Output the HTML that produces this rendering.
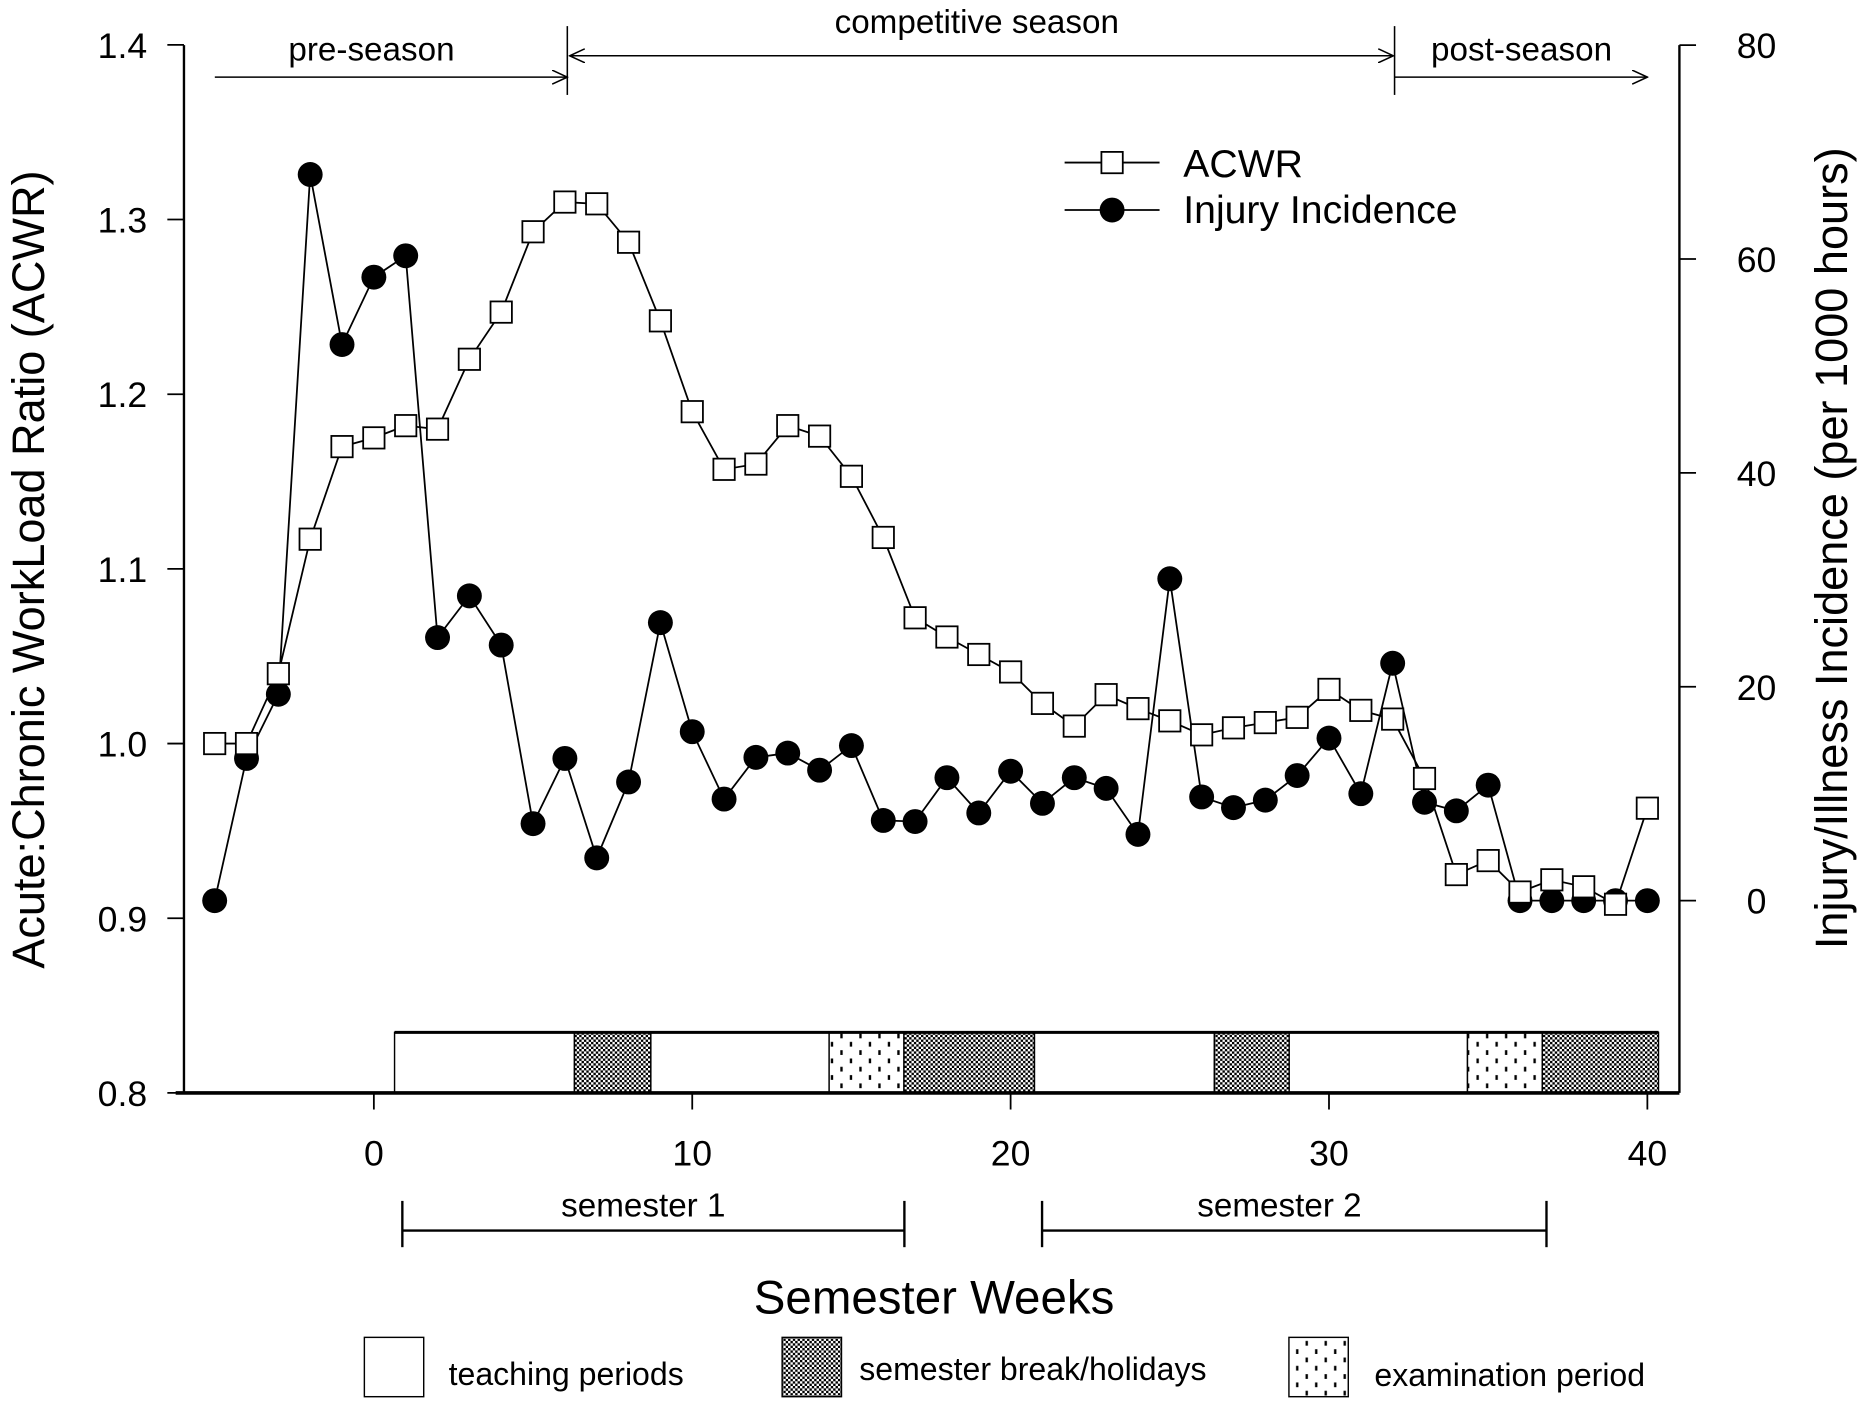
<!DOCTYPE html>
<html><head><meta charset="utf-8"><style>html,body{margin:0;padding:0;background:#fff}svg{display:block}text{font-family:"Liberation Sans",Arial,sans-serif;fill:#000}</style></head>
<body>
<svg id="chart" width="1861" height="1405" viewBox="0 0 1568 1184" preserveAspectRatio="none" xmlns="http://www.w3.org/2000/svg">
<defs>
<pattern id="hatch" width="4" height="4" patternUnits="userSpaceOnUse"><rect width="4" height="4" fill="#fff"/><rect width="2" height="2" fill="#000"/><rect x="2" y="2" width="2" height="2" fill="#000"/></pattern>
<pattern id="dots" width="16" height="14" patternUnits="userSpaceOnUse"><rect width="16" height="14" fill="#fff"/><rect x="4" y="3" width="2" height="4" fill="#000"/><rect x="12" y="10" width="2" height="4" fill="#000"/></pattern>
<marker id="ah" markerWidth="14" markerHeight="12" refX="13" refY="6" orient="auto" markerUnits="userSpaceOnUse"><path d="M0,0 L13,6 L0,12" fill="none" stroke="#000" stroke-width="1.3"/></marker>
<marker id="ahs" markerWidth="14" markerHeight="12" refX="1" refY="6" orient="auto" markerUnits="userSpaceOnUse"><path d="M14,0 L1,6 L14,12" fill="none" stroke="#000" stroke-width="1.3"/></marker>
</defs>
<g id="axes"></g>
<g id="series"></g>
</svg>
<script>
const weeks = [-5,-4,-3,-2,-1,0,1,2,3,4,5,6,7,8,9,10,11,12,13,14,15,16,17,18,19,20,21,22,23,24,25,26,27,28,29,30,31,32,33,34,35,36,37,38,39,40];
const acwr = [1.00,1.00,1.04,1.117,1.17,1.175,1.182,1.18,1.22,1.247,1.293,1.31,1.309,1.287,1.242,1.19,1.157,1.16,1.182,1.176,1.153,1.118,1.072,1.061,1.051,1.041,1.023,1.010,1.028,1.020,1.013,1.005,1.009,1.012,1.015,1.031,1.019,1.014,0.980,0.925,0.933,0.915,0.922,0.918,0.908,0.963];
const injury = [0,13.3,19.3,67.9,52,58.3,60.3,24.6,28.5,23.9,7.2,13.3,4,11.1,26,15.8,9.5,13.4,13.8,12.2,14.5,7.5,7.4,11.5,8.2,12.1,9.1,11.5,10.5,6.2,30.1,9.7,8.7,9.4,11.7,15.2,10,22.2,9.2,8.4,10.8,0,0,0,0,0];
const xTicks = [0,10,20,30,40];
const yLeftTicks = [0.8,0.9,1.0,1.1,1.2,1.3,1.4];
const yRightTicks = [0,20,40,60,80];
const periodTypes = ['teaching','break','teaching','exam','break','teaching','break','teaching','exam','break'];
const periodStarts = [0.65,6.3,8.7,14.3,16.65,20.75,26.4,28.75,34.35,36.7];
const periodEnds = [6.3,8.7,14.3,16.65,20.75,26.4,28.75,34.35,36.7,40.35];

const NS='http://www.w3.org/2000/svg';
const X = w => 315 + (w-0)*26.825;
const YL = v => 921 - (v-0.8)*1472;
const YR = v => 759 - v*9.0125;
function mk(parent, tag, attrs, text){const e=document.createElementNS(NS,tag);for(const k in attrs)e.setAttribute(k,attrs[k]);if(text!==undefined)e.textContent=text;parent.appendChild(e);return e;}
const ax=document.getElementById('axes'), sr=document.getElementById('series');

// frame
let e;
e=mk(ax,'line',{x1:155,y1:38,x2:155,y2:921,stroke:'#000','stroke-width':2});


e=mk(ax,'line',{x1:1415,y1:38,x2:1415,y2:921,stroke:'#000','stroke-width':2});



// period bar
periodTypes.forEach((t,i)=>{
  const x1=X(periodStarts[i]), x2=X(periodEnds[i]);
  e=mk(ax,'rect',{x:x1,y:870,width:x2-x1,height:51,fill:t==='teaching'?'#fff':(t==='break'?'url(#hatch)':'url(#dots)'),stroke:'#000','stroke-width':1.2});
  
  
});
e=mk(ax,'line',{x1:X(periodStarts[0]),y1:870,x2:X(periodEnds[periodEnds.length-1]),y2:870,stroke:'#000','stroke-width':2.5});


e=mk(ax,'line',{x1:148,y1:921,x2:1415,y2:921,stroke:'#000','stroke-width':3});



xTicks.forEach(t=>{
  e=mk(ax,'line',{x1:X(t),y1:921,x2:X(t),y2:935,stroke:'#000','stroke-width':1.5});
  
  
  e=mk(ax,'text',{x:X(t),y:982,'text-anchor':'middle','font-size':30},String(t));
  
  
});
yLeftTicks.forEach(t=>{
  e=mk(ax,'line',{x1:141,y1:YL(t),x2:155,y2:YL(t),stroke:'#000','stroke-width':1.5});
  
  
  e=mk(ax,'text',{x:124,y:YL(t)+11,'text-anchor':'end','font-size':30},t.toFixed(1));
  
  
});
yRightTicks.forEach(t=>{
  e=mk(ax,'line',{x1:1415,y1:YR(t),x2:1429,y2:YR(t),stroke:'#000','stroke-width':1.5});
  
  
  e=mk(ax,'text',{x:1480,y:YR(t)+11,'text-anchor':'middle','font-size':30},String(t));
  
  
});

// titles
e=mk(ax,'text',{x:787,y:1107,'text-anchor':'middle','font-size':40},'Semester Weeks');


e=mk(ax,'text',{x:0,y:0,'text-anchor':'middle','font-size':38,transform:'translate(37,480) rotate(-90)'},'Acute:Chronic WorkLoad Ratio (ACWR)');


e=mk(ax,'text',{x:0,y:0,'text-anchor':'middle','font-size':38,transform:'translate(1556,462) rotate(-90)'},'Injury/Illness Incidence (per 1000 hours)');



// season annotations
[[478,22,80],[1175,22,80]].forEach(v=>{
  e=mk(ax,'line',{x1:v[0],y1:v[1],x2:v[0],y2:v[2],stroke:'#000','stroke-width':1.3});
  
  
});
e=mk(ax,'line',{x1:181,y1:65,x2:478,y2:65,stroke:'#000','stroke-width':1.3,'marker-end':'url(#ah)'});


e=mk(ax,'line',{x1:480,y1:47,x2:1174,y2:47,stroke:'#000','stroke-width':1.3,'marker-end':'url(#ah)','marker-start':'url(#ahs)'});


e=mk(ax,'line',{x1:1175,y1:65,x2:1388,y2:65,stroke:'#000','stroke-width':1.3,'marker-end':'url(#ah)'});


e=mk(ax,'text',{x:313,y:51,'text-anchor':'middle','font-size':28},'pre-season');


e=mk(ax,'text',{x:823,y:28,'text-anchor':'middle','font-size':28},'competitive season');


e=mk(ax,'text',{x:1282,y:51,'text-anchor':'middle','font-size':28},'post-season');



// semester brackets
[[339,762,542,'semester 1'],[878,1303,1078,'semester 2']].forEach((s,i)=>{
  const g=mk(ax,'g',{});
  
  
  mk(g,'line',{x1:s[0],y1:1037,x2:s[1],y2:1037,stroke:'#000','stroke-width':2});
  mk(g,'line',{x1:s[0],y1:1012,x2:s[0],y2:1051,stroke:'#000','stroke-width':2});
  mk(g,'line',{x1:s[1],y1:1012,x2:s[1],y2:1051,stroke:'#000','stroke-width':2});
  mk(g,'text',{x:s[2],y:1025,'text-anchor':'middle','font-size':28},s[3]);
});

// series
const ptsA=weeks.map((w,i)=>X(w)+','+YL(acwr[i])).join(' ');
const ptsI=weeks.map((w,i)=>X(w)+','+YR(injury[i])).join(' ');
e=mk(sr,'polyline',{points:ptsI,fill:'none',stroke:'#000','stroke-width':1.5});


e=mk(sr,'polyline',{points:ptsA,fill:'none',stroke:'#000','stroke-width':1.5});


weeks.forEach((w,i)=>{
  e=mk(sr,'circle',{cx:X(w),cy:YR(injury[i]),r:10.5,fill:'#000'});
  
  
});
weeks.forEach((w,i)=>{
  e=mk(sr,'rect',{x:X(w)-9,y:YL(acwr[i])-9,width:18,height:18,fill:'#fff',stroke:'#000','stroke-width':1.5});
  
  
});

// legend
let lg=mk(sr,'g',{});


mk(lg,'line',{x1:897,y1:137,x2:977,y2:137,stroke:'#000','stroke-width':1.5});
mk(lg,'rect',{x:928,y:128,width:18,height:18,fill:'#fff',stroke:'#000','stroke-width':1.5});
mk(lg,'text',{x:997,y:149,'font-size':33},'ACWR');
lg=mk(sr,'g',{});


mk(lg,'line',{x1:897,y1:177,x2:977,y2:177,stroke:'#000','stroke-width':1.5});
mk(lg,'circle',{cx:937,cy:177,r:10.5,fill:'#000'});
mk(lg,'text',{x:997,y:188,'font-size':33},'Injury Incidence');

// bottom legend
[[307,'#fff',378,1167,'teaching periods','legend-teaching'],[659,'url(#hatch)',724,1163,'semester break/holidays','legend-break'],[1086,'url(#dots)',1158,1168,'examination period','legend-exam']].forEach(b=>{
  const g=mk(ax,'g',{});
  
  
  mk(g,'rect',{x:b[0],y:1127,width:50,height:50,fill:b[1],stroke:'#000','stroke-width':1.2});
  mk(g,'text',{x:b[2],y:b[3],'font-size':27},b[4]);
});
</script>
</body></html>
